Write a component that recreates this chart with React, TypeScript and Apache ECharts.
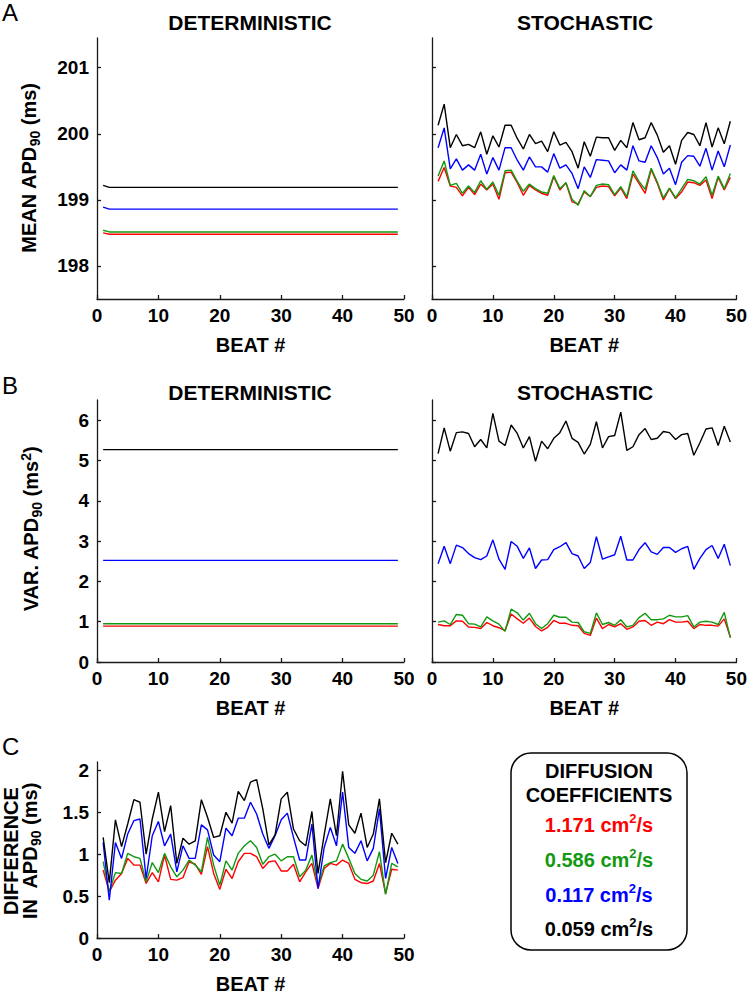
import React, { useEffect, useRef } from "react";
import * as echarts from "echarts";

const FONT = "Liberation Sans, Arial, Helvetica, sans-serif";
const RED = "#ff0000";
const GREEN = "#119911";
const BLUE = "#0000ff";
const BLACK = "#000000";

const beats = [1,2,3,4,5,6,7,8,9,10,11,12,13,14,15,16,17,18,19,20,21,22,23,24,25,26,27,28,29,30,31,32,33,34,35,36,37,38,39,40,41,42,43,44,45,46,47,48,49];
const xTicks = [0, 10, 20, 30, 40, 50];
const meanTicks = [198, 199, 200, 201];
const varTicks = [0, 1, 2, 3, 4, 5, 6];
const diffTicks = [0, 0.5, 1, 1.5, 2];

// Panel A deterministic (mean APD90, ms)
const detMeanRed = [198.50,198.48,198.48,198.48,198.48,198.48,198.48,198.48,198.48,198.48,
  198.48,198.48,198.48,198.48,198.48,198.48,198.48,198.48,198.48,198.48,
  198.48,198.48,198.48,198.48,198.48,198.48,198.48,198.48,198.48,198.48,
  198.48,198.48,198.48,198.48,198.48,198.48,198.48,198.48,198.48,198.48,
  198.48,198.48,198.48,198.48,198.48,198.48,198.48,198.48,198.48];
const detMeanGreen = [198.54,198.515,198.515,198.515,198.515,198.515,198.515,198.515,198.515,198.515,
  198.515,198.515,198.515,198.515,198.515,198.515,198.515,198.515,198.515,198.515,
  198.515,198.515,198.515,198.515,198.515,198.515,198.515,198.515,198.515,198.515,
  198.515,198.515,198.515,198.515,198.515,198.515,198.515,198.515,198.515,198.515,
  198.515,198.515,198.515,198.515,198.515,198.515,198.515,198.515,198.515];
const detMeanBlue = [198.89,198.86,198.86,198.86,198.86,198.86,198.86,198.86,198.86,198.86,
  198.86,198.86,198.86,198.86,198.86,198.86,198.86,198.86,198.86,198.86,
  198.86,198.86,198.86,198.86,198.86,198.86,198.86,198.86,198.86,198.86,
  198.86,198.86,198.86,198.86,198.86,198.86,198.86,198.86,198.86,198.86,
  198.86,198.86,198.86,198.86,198.86,198.86,198.86,198.86,198.86];
const detMeanBlack = [199.22,199.19,199.19,199.19,199.19,199.19,199.19,199.19,199.19,199.19,
  199.19,199.19,199.19,199.19,199.19,199.19,199.19,199.19,199.19,199.19,
  199.19,199.19,199.19,199.19,199.19,199.19,199.19,199.19,199.19,199.19,
  199.19,199.19,199.19,199.19,199.19,199.19,199.19,199.19,199.19,199.19,
  199.19,199.19,199.19,199.19,199.19,199.19,199.19,199.19,199.19];

// Panel A stochastic
const stoMeanRed = [199.28,199.49,199.21,199.19,199.06,199.19,199.08,199.24,199.15,199.24,
  199.01,199.41,199.42,199.26,199.07,199.22,199.15,199.10,199.07,199.35,
  199.15,199.26,198.97,198.94,199.12,199.05,199.19,199.21,199.20,199.06,
  199.18,199.02,199.39,199.25,199.10,199.46,199.25,199.00,199.17,199.02,
  199.12,199.27,199.26,199.22,199.30,199.02,199.34,199.15,199.34];
const stoMeanGreen = [199.36,199.59,199.22,199.25,199.10,199.21,199.11,199.29,199.16,199.27,
  199.07,199.44,199.45,199.28,199.13,199.24,199.17,199.12,199.10,199.37,
  199.17,199.26,199.01,198.92,199.14,199.05,199.22,199.24,199.23,199.08,
  199.20,199.05,199.44,199.28,199.16,199.48,199.27,199.03,199.18,199.03,
  199.17,199.31,199.29,199.24,199.35,199.07,199.36,199.17,199.40];
const stoMeanBlue = [199.79,200.09,199.47,199.62,199.45,199.53,199.45,199.69,199.39,199.64,
  199.45,199.79,199.79,199.60,199.45,199.65,199.50,199.50,199.42,199.70,
  199.48,199.53,199.40,199.17,199.50,199.34,199.61,199.60,199.59,199.41,
  199.53,199.45,199.82,199.59,199.57,199.82,199.64,199.39,199.48,199.23,
  199.57,199.67,199.66,199.51,199.78,199.45,199.74,199.50,199.83];
const stoMeanBlack = [200.13,200.45,199.79,199.99,199.82,199.84,199.79,200.03,199.69,199.97,
  199.80,200.13,200.13,199.93,199.77,199.99,199.85,199.89,199.73,200.03,
  199.83,199.87,199.73,199.48,199.88,199.66,199.95,199.94,199.94,199.75,
  199.90,199.79,200.17,199.91,199.94,200.17,199.98,199.72,199.82,199.54,
  199.90,200.02,199.99,199.82,200.17,199.80,200.09,199.85,200.19];

// Panel B deterministic (variance, ms^2)
const detVarRed = [0.89,0.89,0.89,0.89,0.89,0.89,0.89,0.89,0.89,0.89,
  0.89,0.89,0.89,0.89,0.89,0.89,0.89,0.89,0.89,0.89,
  0.89,0.89,0.89,0.89,0.89,0.89,0.89,0.89,0.89,0.89,
  0.89,0.89,0.89,0.89,0.89,0.89,0.89,0.89,0.89,0.89,
  0.89,0.89,0.89,0.89,0.89,0.89,0.89,0.89,0.89];
const detVarGreen = [0.95,0.95,0.95,0.95,0.95,0.95,0.95,0.95,0.95,0.95,
  0.95,0.95,0.95,0.95,0.95,0.95,0.95,0.95,0.95,0.95,
  0.95,0.95,0.95,0.95,0.95,0.95,0.95,0.95,0.95,0.95,
  0.95,0.95,0.95,0.95,0.95,0.95,0.95,0.95,0.95,0.95,
  0.95,0.95,0.95,0.95,0.95,0.95,0.95,0.95,0.95];
const detVarBlue = [2.52,2.52,2.52,2.52,2.52,2.52,2.52,2.52,2.52,2.52,
  2.52,2.52,2.52,2.52,2.52,2.52,2.52,2.52,2.52,2.52,
  2.52,2.52,2.52,2.52,2.52,2.52,2.52,2.52,2.52,2.52,
  2.52,2.52,2.52,2.52,2.52,2.52,2.52,2.52,2.52,2.52,
  2.52,2.52,2.52,2.52,2.52,2.52,2.52,2.52,2.52];
const detVarBlack = [5.27,5.27,5.27,5.27,5.27,5.27,5.27,5.27,5.27,5.27,
  5.27,5.27,5.27,5.27,5.27,5.27,5.27,5.27,5.27,5.27,
  5.27,5.27,5.27,5.27,5.27,5.27,5.27,5.27,5.27,5.27,
  5.27,5.27,5.27,5.27,5.27,5.27,5.27,5.27,5.27,5.27,
  5.27,5.27,5.27,5.27,5.27,5.27,5.27,5.27,5.27];

// Panel B stochastic
const stoVarRed = [0.93,0.90,0.90,1.02,1.01,0.87,0.86,0.83,0.98,0.90,
  0.85,0.78,1.19,1.07,0.96,1.09,0.88,0.77,0.86,1.03,
  0.96,0.96,0.91,0.90,0.71,0.66,1.09,0.83,0.93,0.87,
  0.95,0.81,0.87,1.01,1.03,0.91,0.99,0.95,1.05,0.99,
  0.99,1.01,0.83,0.93,0.91,0.91,0.89,1.07,0.62];
const stoVarGreen = [0.99,1.02,0.93,1.18,1.16,0.95,0.94,0.87,1.12,1.02,
  0.94,0.76,1.31,1.22,1.04,1.21,0.95,0.83,0.95,1.16,
  1.11,1.11,0.99,0.98,0.75,0.71,1.22,0.93,0.98,0.91,
  1.05,0.87,0.91,1.10,1.21,1.05,1.05,1.07,1.16,1.12,
  1.12,1.15,0.87,0.99,1.01,0.99,0.93,1.23,0.60];
const stoVarBlue = [2.44,2.87,2.44,2.90,2.84,2.69,2.59,2.54,2.63,3.03,
  2.55,2.30,2.99,2.87,2.57,2.83,2.32,2.53,2.54,2.79,
  2.86,2.96,2.69,2.63,2.32,2.47,3.11,2.55,2.61,2.66,
  3.12,2.53,2.53,2.79,2.96,2.73,2.67,2.84,2.84,2.72,
  2.81,2.87,2.30,2.57,2.79,2.89,2.57,2.92,2.39];
const stoVarBlack = [5.17,5.81,5.23,5.69,5.71,5.67,5.34,5.52,5.31,6.17,
  5.48,5.37,5.88,5.67,5.31,5.59,4.98,5.48,5.29,5.55,
  5.69,5.98,5.55,5.45,5.16,5.40,5.96,5.31,5.59,5.62,
  6.20,5.25,5.34,5.64,5.79,5.52,5.55,5.72,5.69,5.52,
  5.64,5.67,5.13,5.44,5.78,5.81,5.37,5.85,5.46];

// Panel C difference in APD90 (ms)
const diffRed = [0.81,0.55,0.69,0.77,0.95,0.87,0.87,0.65,0.78,0.67,
  0.99,0.70,0.69,0.72,0.91,0.88,0.76,1.09,0.77,0.58,
  0.82,0.71,0.91,1.01,1.01,0.97,0.83,0.91,0.92,0.80,
  0.80,0.88,0.67,0.79,0.89,0.59,0.83,0.89,0.87,0.93,
  0.89,0.70,0.66,0.65,0.68,0.89,0.53,0.82,0.81];
const diffGreen = [0.91,0.55,0.78,0.77,1.01,0.97,0.95,0.67,0.90,0.78,
  1.01,0.85,0.73,0.81,0.93,0.87,0.79,1.20,0.87,0.63,
  0.92,0.81,1.01,1.10,1.16,1.08,0.88,0.97,1.00,0.92,
  0.97,0.97,0.73,0.81,0.99,0.62,0.86,0.90,0.92,1.12,
  0.95,0.77,0.70,0.68,0.75,1.03,0.52,0.89,0.85];
const diffBlue = [1.14,0.45,1.14,0.95,1.24,1.40,1.42,0.71,1.22,1.39,
  1.10,1.24,0.79,1.10,0.95,0.95,1.35,1.29,0.99,0.91,
  1.31,1.22,1.43,1.43,1.62,1.48,1.24,1.07,1.22,1.41,
  1.49,1.20,0.93,0.93,1.36,0.59,1.08,1.32,1.10,1.74,
  1.08,1.01,1.16,0.92,1.07,1.54,0.71,1.08,0.89];
const diffBlack = [1.20,0.66,1.41,1.09,1.36,1.65,1.62,1.00,1.42,1.74,
  1.27,1.58,0.89,1.19,1.12,1.16,1.65,1.44,1.20,1.22,
  1.50,1.37,1.75,1.64,1.86,1.89,1.54,1.11,1.23,1.66,
  1.74,1.30,1.16,1.10,1.51,0.77,1.23,1.66,1.22,1.99,
  1.35,1.25,1.49,1.08,1.24,1.66,0.90,1.25,1.12];

const legendLabels = ["1.171", "0.586", "0.117", "0.059"];
const legendColors = [RED, GREEN, BLUE, BLACK];

function pts(vals: number[]) {
  return beats.map((b, i) => [b, vals[i]]);
}

const axisLineStyle = { color: "#1a1a1a", width: 1.3 };
const labelStyle = { fontFamily: FONT, fontWeight: "bold" as const, fontSize: 19, color: "#000" };

function makeX(gridIndex: number) {
  return {
    type: "value",
    gridIndex,
    min: 0,
    max: 50,
    interval: 10,
    name: "BEAT #",
    nameLocation: "middle",
    nameGap: 36,
    nameTextStyle: { ...labelStyle, fontSize: 20 },
    axisLine: { show: true, onZero: false, lineStyle: axisLineStyle },
    axisTick: { show: true, inside: true, length: 4, lineStyle: axisLineStyle, customValues: xTicks },
    axisLabel: { show: true, margin: 7, ...labelStyle, customValues: xTicks },
    splitLine: { show: false },
  };
}

function makeY(gridIndex: number, min: number, max: number, ticks: number[], showLabels: boolean) {
  return {
    type: "value",
    gridIndex,
    min,
    max,
    axisLine: { show: true, onZero: false, lineStyle: axisLineStyle },
    axisTick: { show: true, inside: true, length: 4, lineStyle: axisLineStyle, customValues: ticks },
    axisLabel: { show: showLabels, margin: 8, ...labelStyle, customValues: ticks },
    splitLine: { show: false },
  };
}

function lineSeries(idx: number, vals: number[], color: string) {
  return {
    type: "line",
    xAxisIndex: idx,
    yAxisIndex: idx,
    data: pts(vals),
    showSymbol: false,
    symbol: "none",
    lineStyle: { color, width: 1.4 },
    itemStyle: { color },
    silent: true,
  };
}

const richBase = {
  a: { fontFamily: FONT, fontWeight: "bold", fontSize: 20, lineHeight: 25, color: "#000" },
  s: { fontFamily: FONT, fontWeight: "bold", fontSize: 14, lineHeight: 25, verticalAlign: "bottom", color: "#000" },
  p: { fontFamily: FONT, fontWeight: "bold", fontSize: 14, lineHeight: 25, verticalAlign: "top", color: "#000" },
};

function yTitle(x: number, y: number, text: string) {
  return {
    type: "text",
    x,
    y,
    rotation: Math.PI / 2,
    style: { text, rich: richBase, align: "center", verticalAlign: "middle", fill: "#000" },
  };
}

function plainText(x: number, y: number, text: string, size: number, weight: string, align = "center", color = "#000") {
  return {
    type: "text",
    x,
    y,
    style: { text, fontFamily: FONT, fontSize: size, fontWeight: weight, fill: color, align, verticalAlign: "middle" },
  };
}

function legendLine(y: number, value: string, color: string) {
  const st = { fontFamily: FONT, fontWeight: "bold", fontSize: 20, lineHeight: 26, color };
  return {
    type: "text",
    x: 599,
    y,
    style: {
      text: `{a|${value} cm}{p|2}{a|/s}`,
      rich: {
        a: st,
        p: { ...st, fontSize: 13, verticalAlign: "top" },
      },
      align: "center",
      verticalAlign: "middle",
      fill: color,
    },
  };
}

export default function App() {
  const ref = useRef<HTMLDivElement>(null);
  useEffect(() => {
    if (!ref.current) return;
    const chart = echarts.init(ref.current, undefined, { renderer: "svg" });
    const grids = [
      { left: 97, top: 38, width: 307, height: 261 },
      { left: 432, top: 38, width: 307, height: 261 },
      { left: 97, top: 400, width: 307, height: 262 },
      { left: 432, top: 400, width: 307, height: 262 },
      { left: 97, top: 762, width: 307, height: 176 },
    ];
    const option: any = {
      animation: false,
      grid: grids.map((g) => ({ ...g, containLabel: false })),
      xAxis: [0, 1, 2, 3, 4].map((i) => makeX(i)),
      yAxis: [
        makeY(0, 197.5, 201.45, meanTicks, true),
        makeY(1, 197.5, 201.45, meanTicks, false),
        makeY(2, 0, 6.5, varTicks, true),
        makeY(3, 0, 6.5, varTicks, false),
        makeY(4, 0, 2.1, diffTicks, true),
      ],
      series: [
        lineSeries(0, detMeanRed, RED),
        lineSeries(0, detMeanGreen, GREEN),
        lineSeries(0, detMeanBlue, BLUE),
        lineSeries(0, detMeanBlack, BLACK),
        lineSeries(1, stoMeanRed, RED),
        lineSeries(1, stoMeanGreen, GREEN),
        lineSeries(1, stoMeanBlue, BLUE),
        lineSeries(1, stoMeanBlack, BLACK),
        lineSeries(2, detVarRed, RED),
        lineSeries(2, detVarGreen, GREEN),
        lineSeries(2, detVarBlue, BLUE),
        lineSeries(2, detVarBlack, BLACK),
        lineSeries(3, stoVarRed, RED),
        lineSeries(3, stoVarGreen, GREEN),
        lineSeries(3, stoVarBlue, BLUE),
        lineSeries(3, stoVarBlack, BLACK),
        lineSeries(4, diffRed, RED),
        lineSeries(4, diffGreen, GREEN),
        lineSeries(4, diffBlue, BLUE),
        lineSeries(4, diffBlack, BLACK),
      ],
      graphic: {
        elements: [
          plainText(2, 12, "A", 24, "normal", "left"),
          plainText(2, 385, "B", 24, "normal", "left"),
          plainText(2, 746, "C", 24, "normal", "left"),
          plainText(250, 22, "DETERMINISTIC", 21, "bold"),
          plainText(585, 22, "STOCHASTIC", 21, "bold"),
          plainText(250, 392, "DETERMINISTIC", 21, "bold"),
          plainText(585, 392, "STOCHASTIC", 21, "bold"),
          yTitle(29, 168, "{a|MEAN APD}{s|90}{a| (ms)}"),
          yTitle(31, 529, "{a|VAR. APD}{s|90}{a| (ms}{p|2}{a|)}"),
          yTitle(11, 851, "{a|DIFFERENCE}"),
          yTitle(30, 851, "{a|IN  APD}{s|90}{a| (ms)}"),
          {
            type: "rect",
            shape: { x: 511, y: 753, width: 176, height: 197, r: 20 },
            style: { fill: "none", stroke: "#000", lineWidth: 1.5 },
          },
          plainText(599, 771, "DIFFUSION", 20, "bold"),
          plainText(599, 795, "COEFFICIENTS", 20, "bold"),
          legendLine(825, legendLabels[0], legendColors[0]),
          legendLine(860, legendLabels[1], legendColors[1]),
          legendLine(895, legendLabels[2], legendColors[2]),
          legendLine(929, legendLabels[3], legendColors[3]),
        ],
      },
    };
    chart.setOption(option);
    return () => chart.dispose();
  }, []);
  return (
    <div
      ref={ref}
      style={{ position: "absolute", left: 0, top: 0, width: 750, height: 997, background: "#fff" }}
    />
  );
}
